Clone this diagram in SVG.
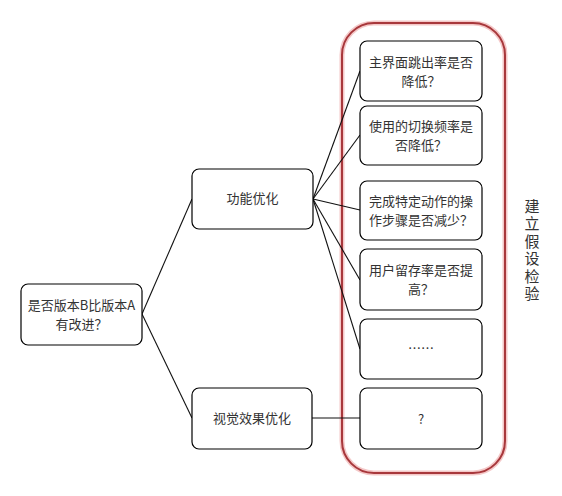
<svg xmlns="http://www.w3.org/2000/svg" width="562" height="496" viewBox="0 0 562 496">
<style>
.box{fill:#fff;stroke:#000;stroke-width:1.2}
.t{font-family:"Noto Sans CJK SC","Liberation Sans",sans-serif;font-size:13px;fill:#333;text-anchor:middle}
.c{fill:none;stroke:#111;stroke-width:1.1}
</style>
<rect width="562" height="496" fill="#fff"/>
<g id="container">
<rect x="342" y="23" width="163" height="450" rx="32" ry="32" fill="none" stroke="#f4c8c8" stroke-width="5"/>
<rect x="342" y="23" width="163" height="450" rx="32" ry="32" fill="none" stroke="#a8383c" stroke-width="2"/>
<text class="t" style="font-size:15px;writing-mode:vertical-rl;letter-spacing:2.5px" x="532" y="251">建立假设检验</text>
</g>
<g id="connectors">
<line class="c" x1="142" y1="314" x2="192" y2="199"/>
<line class="c" x1="142" y1="314" x2="192" y2="418"/>
<line class="c" x1="313" y1="199" x2="360" y2="71"/>
<line class="c" x1="313" y1="199" x2="360" y2="135"/>
<line class="c" x1="313" y1="199" x2="360" y2="210"/>
<line class="c" x1="313" y1="199" x2="360" y2="280"/>
<line class="c" x1="313" y1="199" x2="360" y2="349"/>
<line class="c" x1="312" y1="418" x2="360" y2="418"/>
</g>
<g id="root">
<rect class="box" x="21" y="284" width="121" height="61" rx="7"/>
<text class="t"><tspan x="81.5" y="309.5">是否版本B比版本A</tspan><tspan x="81.5" y="328.5">有改进？</tspan></text>
</g>
<g id="func">
<rect class="box" x="192" y="169" width="121" height="60" rx="7"/>
<text class="t" x="252.5" y="203">功能优化</text>
</g>
<g id="visual">
<rect class="box" x="192" y="388" width="120" height="61" rx="7"/>
<text class="t" x="252" y="423">视觉效果优化</text>
</g>
<g id="h1">
<rect class="box" x="360" y="41" width="122" height="60" rx="7"/>
<text class="t"><tspan x="421" y="66.5">主界面跳出率是否</tspan><tspan x="421" y="85.5">降低？</tspan></text>
</g>
<g id="h2">
<rect class="box" x="360" y="106" width="122" height="59" rx="7"/>
<text class="t"><tspan x="421" y="130.5">使用的切换频率是</tspan><tspan x="421" y="149.5">否降低？</tspan></text>
</g>
<g id="h3">
<rect class="box" x="360" y="181" width="122" height="59" rx="7"/>
<text class="t"><tspan x="421" y="205.5">完成特定动作的操</tspan><tspan x="421" y="224.5">作步骤是否减少？</tspan></text>
</g>
<g id="h4">
<rect class="box" x="360" y="249" width="122" height="61" rx="7"/>
<text class="t"><tspan x="421" y="274.5">用户留存率是否提</tspan><tspan x="421" y="293.5">高？</tspan></text>
</g>
<g id="h5">
<rect class="box" x="360" y="319" width="122" height="60" rx="7"/>
<text class="t" x="421" y="353">……</text>
</g>
<g id="h6">
<rect class="box" x="360" y="388" width="122" height="61" rx="7"/>
<text class="t" x="421" y="424">?</text>
</g>
</svg>
